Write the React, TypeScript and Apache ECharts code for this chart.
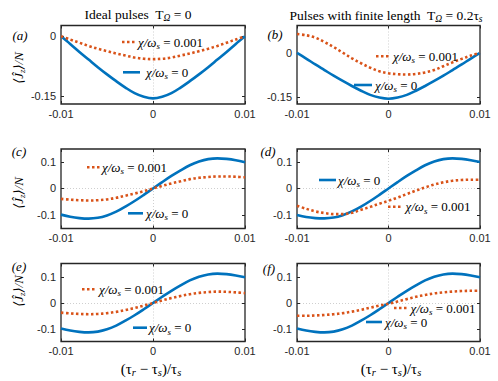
import React, { useEffect, useRef } from 'react';
import * as echarts from 'echarts';

// ---------- data ----------
const X_VALUES = [-0.01, -0.009, -0.008, -0.007, -0.006, -0.005, -0.004, -0.003, -0.002, -0.001, 0,
  0.001, 0.002, 0.003, 0.004, 0.005, 0.006, 0.007, 0.008, 0.009, 0.01];

const A_BLUE = [0, -0.019, -0.039, -0.058, -0.077, -0.095, -0.112, -0.128, -0.142, -0.151, -0.155,
  -0.151, -0.142, -0.128, -0.112, -0.095, -0.077, -0.058, -0.039, -0.019, 0];
const A_ORANGE = [0, -0.008, -0.016, -0.024, -0.031, -0.037, -0.043, -0.048, -0.053, -0.056, -0.057,
  -0.056, -0.053, -0.048, -0.043, -0.037, -0.031, -0.024, -0.016, -0.008, 0];

const B_BLUE = [0, -0.019, -0.039, -0.058, -0.077, -0.095, -0.112, -0.128, -0.142, -0.151, -0.155,
  -0.151, -0.142, -0.128, -0.112, -0.095, -0.077, -0.058, -0.039, -0.019, 0];
const B_ORANGE = [0.064, 0.060, 0.052, 0.037, 0.020, 0.001, -0.018, -0.035, -0.050, -0.062, -0.069,
  -0.072, -0.073, -0.071, -0.066, -0.058, -0.045, -0.032, -0.020, -0.009, 0.001];

const C_BLUE = [-0.098, -0.106, -0.111, -0.113, -0.110, -0.101, -0.087, -0.068, -0.047, -0.024, 0,
  0.024, 0.047, 0.068, 0.087, 0.101, 0.110, 0.113, 0.111, 0.106, 0.098];
const C_ORANGE = [-0.039, -0.042, -0.044, -0.045, -0.044, -0.041, -0.035, -0.027, -0.019, -0.010, 0,
  0.010, 0.019, 0.027, 0.035, 0.040, 0.043, 0.045, 0.045, 0.044, 0.042];

const D_BLUE = [-0.099, -0.107, -0.111, -0.112, -0.109, -0.100, -0.086, -0.068, -0.047, -0.024, 0,
  0.024, 0.047, 0.068, 0.087, 0.101, 0.110, 0.113, 0.111, 0.106, 0.099];
const D_ORANGE = [-0.065, -0.076, -0.086, -0.092, -0.096, -0.096, -0.091, -0.080, -0.069, -0.057, -0.046,
  -0.034, -0.021, -0.008, 0.004, 0.015, 0.023, 0.029, 0.032, 0.033, 0.033];

const E_BLUE = [-0.098, -0.106, -0.111, -0.113, -0.110, -0.101, -0.087, -0.068, -0.047, -0.024, 0,
  0.024, 0.047, 0.068, 0.087, 0.101, 0.110, 0.113, 0.111, 0.106, 0.099];
const E_ORANGE = [-0.037, -0.040, -0.042, -0.043, -0.042, -0.039, -0.034, -0.027, -0.019, -0.010, 0,
  0.010, 0.019, 0.027, 0.034, 0.039, 0.042, 0.044, 0.043, 0.041, 0.038];

const F_BLUE = [-0.098, -0.106, -0.111, -0.113, -0.110, -0.101, -0.087, -0.068, -0.047, -0.024, 0,
  0.024, 0.047, 0.068, 0.087, 0.101, 0.110, 0.113, 0.111, 0.106, 0.099];
const F_ORANGE = [-0.049, -0.049, -0.048, -0.046, -0.043, -0.039, -0.033, -0.026, -0.018, -0.010, -0.003,
  0.006, 0.015, 0.024, 0.031, 0.037, 0.041, 0.044, 0.046, 0.047, 0.047];

const X_TICKS = [-0.01, 0, 0.01];
const Y_TICKS_TOP = [-0.15, 0];
const Y_TICKS_LOWER = [-0.1, 0, 0.1];

const PANEL_LABELS = ['(a)', '(b)', '(c)', '(d)', '(e)', '(f)'];
const LEGEND_CHI_0 = '0';
const LEGEND_CHI_1 = '0.001';

// ---------- style / layout ----------
const SERIF = '"Liberation Serif", "DejaVu Serif", serif';
const SANS = '"Liberation Sans", Arial, sans-serif';
const BLUE = '#0072BD';
const ORANGE = '#D95319';
const AXIS_COLOR = '#262626';

const PANELS = [
  { blue: A_BLUE, orange: A_ORANGE, left: 61, top: 25.5, width: 184, height: 78.5, min: -0.169, max: 0.027, ticks: Y_TICKS_TOP,
    label: [20, 35], legO: [122, 135, 42, 138], legB: [123, 140, 72.3, 146] },
  { blue: B_BLUE, orange: B_ORANGE, left: 297, top: 25.5, width: 183, height: 78.5, min: -0.173, max: 0.093, ticks: Y_TICKS_TOP,
    label: [275, 34], legO: [376, 391, 56.3, 393], legB: [354, 372, 85, 375] },
  { blue: C_BLUE, orange: C_ORANGE, left: 61, top: 149, width: 184, height: 79.5, min: -0.15, max: 0.148, ticks: Y_TICKS_LOWER,
    label: [19, 151], legO: [87, 100, 167.3, 102], legB: [128, 143, 213.3, 146] },
  { blue: D_BLUE, orange: D_ORANGE, left: 297, top: 149, width: 183, height: 79.5, min: -0.15, max: 0.148, ticks: Y_TICKS_LOWER,
    label: [268, 151], legO: [388, 402, 206.7, 405.5], legB: [319, 336, 180, 338] },
  { blue: E_BLUE, orange: E_ORANGE, left: 61, top: 263.5, width: 184, height: 78, min: -0.148, max: 0.152, ticks: Y_TICKS_LOWER,
    label: [19, 266], legO: [82, 97, 289.3, 99], legB: [133, 147, 327.7, 149] },
  { blue: F_BLUE, orange: F_ORANGE, left: 297, top: 263.5, width: 183, height: 78, min: -0.148, max: 0.152, ticks: Y_TICKS_LOWER,
    label: [269, 268], legO: [394, 407, 308, 410.5], legB: [366, 382, 322, 385] },
];

const txt = (fs: number, italic: boolean) => ({
  fontFamily: SERIF, fontSize: fs, fontStyle: italic ? 'italic' : 'normal', fill: '#000', lineHeight: 17,
});
const sub = (fs: number, italic: boolean) => ({
  fontFamily: SERIF, fontSize: fs, fontStyle: italic ? 'italic' : 'normal', fill: '#000', lineHeight: fs, verticalAlign: 'bottom',
});

const legendRich = { i: txt(13, true), s: sub(9, true), n: txt(13, false) };

function legendEntry(seg: number[], val: string, color: string, dotted: boolean) {
  return [
    {
      type: 'line', silent: true,
      shape: { x1: seg[0], y1: seg[2], x2: seg[1], y2: seg[2] },
      style: { stroke: color, lineWidth: 2.6, lineDash: dotted ? [2.5, 2.5] : null },
      z: 100,
    },
    {
      type: 'text', silent: true, x: seg[3], y: seg[2], z: 100,
      style: {
        text: `{i|χ/ω}{s|s}{n| = ${val}}`, rich: legendRich,
        align: 'left', verticalAlign: 'middle',
      },
    },
  ];
}

function buildOption() {
  const grid: any[] = [];
  const xAxis: any[] = [];
  const yAxis: any[] = [];
  const series: any[] = [];
  const graphic: any[] = [];

  PANELS.forEach((p, i) => {
    grid.push({ left: p.left, top: p.top, width: p.width, height: p.height, show: true,
      borderColor: AXIS_COLOR, borderWidth: 1.3, backgroundColor: '#fff', containLabel: false });
    const tickStyle = { show: true, inside: true, length: 3, lineStyle: { color: AXIS_COLOR, width: 1 } };
    const noLine = { show: false, onZero: false };
    xAxis.push({
      gridIndex: i, type: 'value', min: -0.01, max: 0.01, position: 'bottom',
      axisLine: noLine,
      axisTick: { ...tickStyle, customValues: X_TICKS },
      axisLabel: { customValues: X_TICKS, margin: 4, fontSize: 11, color: AXIS_COLOR, fontFamily: SANS },
      splitLine: { show: true, showMinLine: false, showMaxLine: false, lineStyle: { color: '#cfcfcf', type: [1, 2], width: 1 } },
    });
    xAxis.push({
      gridIndex: i, type: 'value', min: -0.01, max: 0.01, position: 'top',
      axisLine: noLine, axisTick: { ...tickStyle, customValues: X_TICKS },
      axisLabel: { show: false }, splitLine: { show: false },
    });
    yAxis.push({
      gridIndex: i, type: 'value', min: p.min, max: p.max, position: 'left',
      axisLine: noLine,
      axisTick: { ...tickStyle, customValues: p.ticks },
      axisLabel: { customValues: p.ticks, margin: 5, fontSize: 11, color: AXIS_COLOR, fontFamily: SANS },
      splitLine: { show: true, showMinLine: false, showMaxLine: false, lineStyle: { color: '#cfcfcf', type: [1, 2], width: 1 } },
    });
    yAxis.push({
      gridIndex: i, type: 'value', min: p.min, max: p.max, position: 'right',
      axisLine: noLine, axisTick: { ...tickStyle, customValues: p.ticks },
      axisLabel: { show: false }, splitLine: { show: false },
    });
    series.push({
      type: 'line', xAxisIndex: 2 * i, yAxisIndex: 2 * i, showSymbol: false, smooth: 0.35, clip: true,
      data: X_VALUES.map((x, k) => [x, p.blue[k]]),
      lineStyle: { color: BLUE, width: 2.6 }, z: 3,
    });
    series.push({
      type: 'line', xAxisIndex: 2 * i, yAxisIndex: 2 * i, showSymbol: false, smooth: 0.35, clip: true,
      data: X_VALUES.map((x, k) => [x, p.orange[k]]),
      lineStyle: { color: ORANGE, width: 2.6, type: [2.5, 2.5] }, z: 4,
    });
    graphic.push({
      type: 'text', silent: true, x: p.label[0], y: p.label[1],
      style: { text: PANEL_LABELS[i], fontFamily: SERIF, fontSize: 13, fontStyle: 'italic', fill: '#000', align: 'center', verticalAlign: 'middle' },
    });
    graphic.push(...legendEntry(p.legO, LEGEND_CHI_1, ORANGE, true));
    graphic.push(...legendEntry(p.legB, LEGEND_CHI_0, BLUE, false));
  });

  // column titles
  graphic.push({
    type: 'text', silent: true, x: 138, y: 14,
    style: { text: '{a|Ideal pulses  T}{o|Ω}{a| = 0}', rich: { a: txt(13.5, false), o: sub(9.5, true) }, align: 'center', verticalAlign: 'middle' },
  });
  graphic.push({
    type: 'text', silent: true, x: 386, y: 15,
    style: { text: '{a|Pulses with finite length  T}{o|Ω}{a| = 0.2τ}{s|s}', rich: { a: txt(13.5, false), o: sub(9.5, true), s: sub(9.5, true) }, align: 'center', verticalAlign: 'middle' },
  });

  // y-axis names
  [68, 193, 291].forEach((yc) => {
    graphic.push({
      type: 'text', silent: true, x: 18, y: yc, rotation: Math.PI / 2,
      style: { text: '{a|⟨Ĵ}{s|z}{a|⟩/N}', rich: { a: txt(13, true), s: sub(9, true) }, align: 'center', verticalAlign: 'middle' },
    });
  });

  // x-axis names
  [151, 391].forEach((xc) => {
    graphic.push({
      type: 'text', silent: true, x: xc, y: 369,
      style: { text: '{a|(τ}{s|r}{a| − τ}{s|s}{a|)/τ}{s|s}', rich: { a: txt(15, false), s: sub(10.5, true) }, align: 'center', verticalAlign: 'middle' },
    });
  });

  return { animation: false, backgroundColor: '#fff', grid, xAxis, yAxis, series, graphic };
}

export default function App() {
  const ref = useRef<HTMLDivElement>(null);
  useEffect(() => {
    if (!ref.current) return;
    const chart = echarts.init(ref.current, null, { renderer: 'svg' });
    chart.setOption(buildOption() as any);
    return () => chart.dispose();
  }, []);
  return <div ref={ref} style={{ position: 'fixed', left: 0, top: 0, width: 498, height: 381, background: '#fff' }} />;
}
